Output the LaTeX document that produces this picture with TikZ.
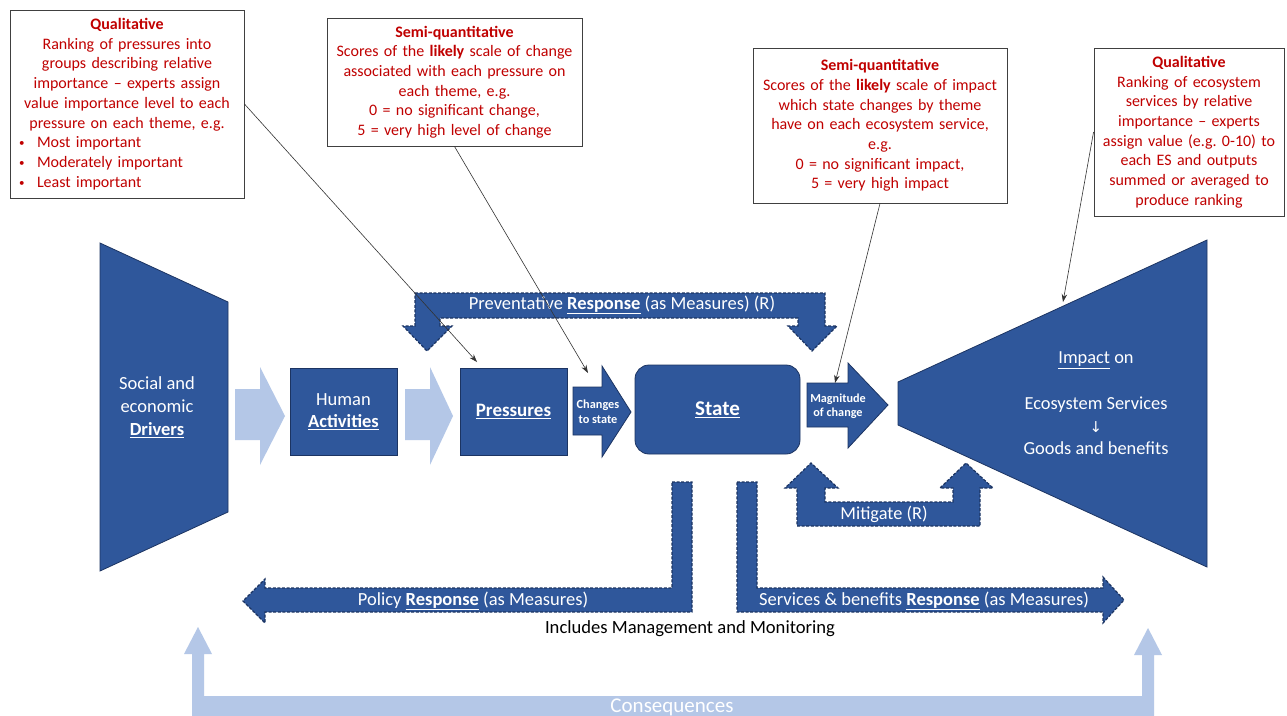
\documentclass[tikz,border=0pt]{standalone}
\usepackage{fontspec}
\setmainfont{Carlito}
\newfontfamily\dejavu{DejaVu Sans}
\usetikzlibrary{arrows.meta}
\definecolor{mblue}{RGB}{47,87,155}
\definecolor{dblue}{RGB}{28,52,98}
\definecolor{lblue}{RGB}{180,199,231}
\definecolor{boxred}{RGB}{192,0,0}
\frenchspacing
\newcommand{\bulletline}[1]{\makebox[224pt][l]{\hspace*{4pt}\makebox[18pt][l]{\raisebox{1pt}{\fontsize{11}{11}\selectfont •}}#1}}
\tikzset{
  callout/.style={draw=black!75, line width=0.9pt, fill=white, inner sep=0pt,
    align=center, text=boxred, font=\fontsize{16}{19.7}\selectfont},
  mainshape/.style={fill=mblue, draw=dblue, line width=0.8pt},
  lightarrow/.style={fill=lblue, draw=none},
  respshape/.style={fill=mblue, draw=dblue, line width=1.2pt, dash pattern=on 3pt off 1.6pt},
  wlabel/.style={text=white, align=center, inner sep=0pt},
  pointer/.style={draw=black!80, line width=0.6pt, -{Stealth[length=8pt,width=5.5pt]}},
}
\begin{document}
\begin{tikzpicture}[x=1pt,y=-1pt]
\clip (0,0) rectangle (1287,715);
\fill[white] (0,0) rectangle (1287,715);

% ---------- callout boxes ----------
\node[callout, minimum width=234, minimum height=188, text width=224] (q1) at (127,104)
 {\textbf{Qualitative}\\Ranking of pressures into\\groups describing relative\\importance -- experts assign\\value importance level to each\\pressure on each theme, e.g.\\
 \bulletline{Most important}\\
 \bulletline{Moderately important}\\
 \bulletline{Least important}};

\node[callout, minimum width=255, minimum height=128, text width=245] (q2) at (454.5,82)
 {\textbf{Semi-quantitative}\\Scores of the \textbf{likely} scale of change\\associated with each pressure on\\each theme, e.g.\\0 = no significant change,\\5 = very high level of change};

\node[callout, minimum width=254, minimum height=155, text width=244] (q3) at (880,125.5)
 {\textbf{Semi-quantitative}\\Scores of the \textbf{likely} scale of impact\\which state changes by theme\\have on each ecosystem service,\\e.g.\\0 = no significant impact,\\5 = very high impact};

\node[callout, minimum width=190, minimum height=168, text width=184] (q4) at (1189,132)
 {\textbf{Qualitative}\\Ranking of ecosystem\\services by relative\\importance -- experts\\assign value (e.g. 0-10) to\\each ES and outputs\\summed or averaged to\\produce ranking};

% ---------- drivers ----------
\path[mainshape] (100,243) -- (228,302) -- (228,512) -- (100,571) -- cycle;
\node[wlabel, font=\fontsize{18.5}{23}\selectfont] (drv) at (157,407)
 {Social and\\economic\\\textbf{\underline{Drivers}}};

% ---------- light arrows ----------
\path[lightarrow] (235,389) -- (260,389) -- (260,367) -- (285,416) -- (260,465) -- (260,440) -- (235,440) -- cycle;
\path[lightarrow] (405,389) -- (430,389) -- (430,367) -- (453,416) -- (430,465) -- (430,440) -- (405,440) -- cycle;

% ---------- human activities, pressures ----------
\node[mainshape, minimum width=107, minimum height=87, wlabel,
  font=\fontsize{18.5}{22}\selectfont] (hum) at (343.5,411.5)
 {Human\\\textbf{\underline{Activities}}};
\node[mainshape, minimum width=107, minimum height=87, wlabel,
  font=\fontsize{19}{22}\selectfont\bfseries] (pres) at (513.5,411.5) {\underline{Pressures}};

% ---------- changes to state ----------
\path[mainshape] (573,387) -- (602,387) -- (602,366) -- (631,412) -- (602,457) -- (602,435) -- (573,435) -- cycle;
\node[wlabel, font=\fontsize{12.3}{15}\selectfont\bfseries] (chg) at (598,412) {Changes\\to state};

% ---------- state ----------
\node[mainshape, rounded corners=14pt, minimum width=165, minimum height=89, wlabel,
  font=\fontsize{21}{24}\selectfont\bfseries] (state) at (717.5,409.5) {\underline{State}};

% ---------- magnitude of change ----------
\path[mainshape] (807,383) -- (848,383) -- (848,363) -- (888,405) -- (848,448) -- (848,427) -- (807,427) -- cycle;
\node[wlabel, font=\fontsize{12.2}{14.5}\selectfont\bfseries] (mag) at (838,406) {Magnitude\\of change};

% ---------- impact ----------
\path[mainshape] (898,382) -- (1207,240) -- (1207,567) -- (898,425) -- cycle;
\node[wlabel, font=\fontsize{18.4}{22}\selectfont] (imp1) at (1096,360) {\underline{Impact} on};
\node[wlabel, font=\fontsize{18.4}{22.5}\selectfont] (imp2) at (1096,426)
 {Ecosystem Services\\{\dejavu\fontsize{15}{22.5}\selectfont ↓}\\Goods and benefits};

% ---------- preventative response ----------
\path[respshape] (415,293) -- (825,293) -- (825,326) -- (837,326) -- (812,351) -- (788,326)
  -- (798,326) -- (798,318) -- (440,318) -- (440,326) -- (452,326) -- (427,351) -- (403,326)
  -- (415,326) -- cycle;
\node[wlabel, font=\fontsize{18.5}{22}\selectfont] (prev) at (622,305)
 {Preventative \textbf{\underline{Response}} (as Measures) (R)};

% ---------- mitigate ----------
\path[respshape] (797,526) -- (980,526) -- (980,488) -- (993,488) -- (966,463) -- (940,488)
  -- (953,488) -- (953,502) -- (825,502) -- (825,488) -- (838,488) -- (811,463) -- (785,488)
  -- (797,488) -- cycle;
\node[wlabel, font=\fontsize{18.3}{22}\selectfont] (mit) at (884,514) {Mitigate (R)};

% ---------- policy / services responses ----------
\path[respshape] (672,482) -- (692,482) -- (692,612) -- (265,612) -- (265,623) -- (243,601)
  -- (265,579) -- (265,588) -- (672,588) -- cycle;
\node[wlabel, font=\fontsize{18.5}{22}\selectfont] (pol) at (473,601)
 {Policy \textbf{\underline{Response}} (as Measures)};
\path[respshape] (737,482) -- (757,482) -- (757,588) -- (1103,588) -- (1103,577) -- (1124,600)
  -- (1103,623) -- (1103,612) -- (737,612) -- cycle;
\node[wlabel, font=\fontsize{18.5}{22}\selectfont] (serv) at (924,601)
 {Services \& benefits \textbf{\underline{Response}} (as Measures)};
\node[inner sep=0pt, font=\fontsize{18.6}{22}\selectfont] (incl) at (690,629)
 {Includes Management and Monitoring};

% ---------- consequences ----------
\path[lightarrow] (192,720) -- (192,654) -- (184,654) -- (198,627) -- (212,654) -- (204,654)
  -- (204,696) -- (1142,696) -- (1142,655) -- (1134,655) -- (1148,628) -- (1162,655)
  -- (1154,655) -- (1154,720) -- cycle;
\node[wlabel, font=\fontsize{21}{24}\selectfont] (cons) at (672,707) {Consequences};

% ---------- pointers ----------
\coordinate (p1) at (477,362);
\coordinate (p2) at (588,373);
\coordinate (p3) at (835,383);
\coordinate (p4) at (1063,302);
\draw[pointer] (q1.east) -- (p1);
\draw[pointer] (q2.south) -- (p2);
\draw[pointer] (q3.south) -- (p3);
\draw[pointer] (q4.west) -- (p4);
\end{tikzpicture}
\end{document}
